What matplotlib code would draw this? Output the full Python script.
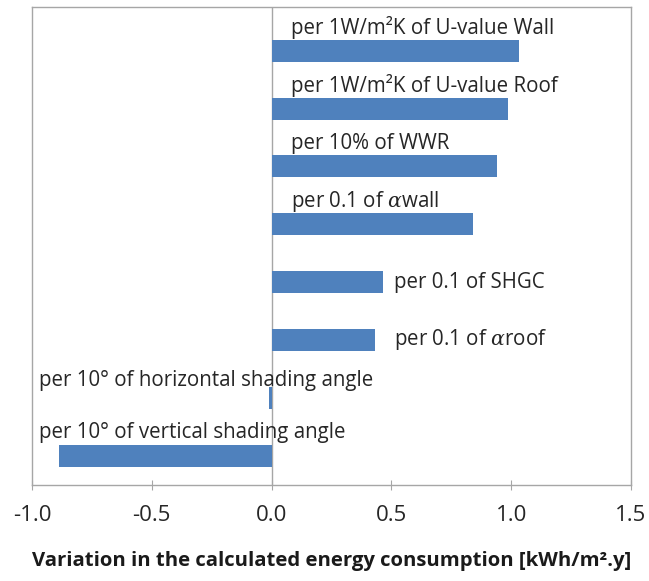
import numpy as np
import matplotlib.pyplot as plt

plt.rcParams['font.family'] = ['Open Sans', 'DejaVu Sans']
plt.rcParams['mathtext.fontset'] = 'dejavuserif'

# Параметры (сверху вниз)
labels = [
    "per 1W/m\u00b2K of U-value Wall",
    "per 1W/m\u00b2K of U-value Roof",
    "per 10% of WWR",
    r"per 0.1 of $\alpha$wall",
    "per 0.1 of SHGC",
    r"per 0.1 of $\alpha$roof",
    "per 10\u00b0 of horizontal shading angle",
    "per 10\u00b0 of vertical shading angle",
]
values = [1.033, 0.985, 0.941, 0.842, 0.466, 0.432, -0.01, -0.887]
xticks = [-1.0, -0.5, 0.0, 0.5, 1.0, 1.5]

n = len(values)
pos = np.arange(n)[::-1]  # первый параметр сверху
bar_color = "#4F81BD"
frame_color = "#A6A6A6"

fig = plt.figure(figsize=(6.49, 5.81), dpi=100)
ax = fig.add_axes([0.0493, 0.1652, 0.923, 0.823])

ax.barh(pos, values, height=0.38, color=bar_color, zorder=3)
ax.axvline(0, color=frame_color, linewidth=1.0, zorder=2)

# подписи: сверху над столбцом, справа от столбца, или слева
fs = 14.8
for i, (lab, v, p) in enumerate(zip(labels, values, pos)):
    if i < 4:
        ax.text(0.08, p + 0.40, lab, fontsize=fs, va="center", ha="left",
                color="#262626")
    elif i < 6:
        ax.text(0.51, p, lab, fontsize=fs, va="center", ha="left",
                color="#262626")
    else:
        ax.text(-0.97, p + 0.30 if i == 6 else p + 0.40, lab, fontsize=fs,
                va="center", ha="left", color="#262626")

ax.set_xlim(-1.0, 1.5)
ax.set_ylim(-0.51, 7.76)
ax.set_xticks(xticks)
ax.set_xticklabels([f"{t:.1f}" for t in xticks], fontsize=16, color="#262626")
ax.set_yticks([])
ax.tick_params(axis="x", direction="inout", length=7, color=frame_color, pad=11)

for s in ax.spines.values():
    s.set_color(frame_color)
    s.set_linewidth(1.0)

ax.set_xlabel("Variation in the calculated energy consumption [kWh/m\u00b2.y]",
              fontsize=14.6, fontweight="bold", labelpad=18, color="#1a1a1a")

fig.savefig("out.png", dpi=100)
